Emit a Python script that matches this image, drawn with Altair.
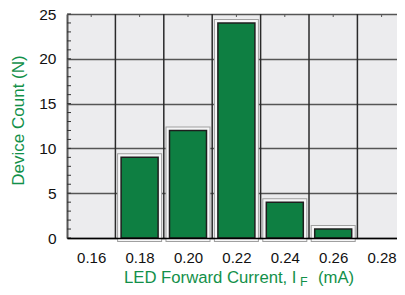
import altair as alt
import pandas as pd

# ---- data ----
currents = [0.16, 0.18, 0.20, 0.22, 0.24, 0.26, 0.28]
counts = [0, 9, 12, 24, 4, 1, 0]
grid_x = [0.17, 0.19, 0.21, 0.23, 0.25, 0.27]
y_ticks = [0, 5, 10, 15, 20, 25]
minor_y = list(range(0, 26))
x_title_main = "LED Forward Current, I"
x_title_sub = "F"
x_title_unit = "(mA)"
y_title = "Device Count (N)"

GREEN = "#0e7f42"
TITLE_GREEN = "#129049"
FONT = "Liberation Sans"
W, H = 330, 224

x_scale = alt.Scale(domain=[0.15, 0.28636], nice=False, zero=False, padding=0)
y_scale = alt.Scale(domain=[0, 25], nice=False, padding=0)

X_AXIS = alt.Axis(
    values=currents,
    format=".2f",
    title=None,
    grid=False,
    ticks=False,
    domainColor="#000000",
    domainWidth=1.5,
    labelPadding=12,
    labelFont=FONT,
    labelFontSize=15,
    labelColor="#111111",
    zindex=1,
)
Y_AXIS = alt.Axis(
    values=y_ticks,
    grid=True,
    gridColor="#555555",
    gridWidth=1.5,
    ticks=False,
    domainColor="#555555",
    domainWidth=2,
    labelPadding=11,
    labelFont=FONT,
    labelFontSize=15.5,
    labelColor="#111111",
    title=y_title,
    titleColor=TITLE_GREEN,
    titleFont=FONT,
    titleFontSize=17,
    titleFontWeight="normal",
    titleAngle=270,
    titleX=-49,
    titleY=106,
    titleAlign="center",
    titleBaseline="middle",
)

bars_df = pd.DataFrame({"current": currents, "count": counts})
bars_df = bars_df[bars_df["count"] > 0]
grid_df = pd.DataFrame({"current": grid_x})
minor_df = pd.DataFrame({"count": minor_y})
top_df = pd.DataFrame({"current": currents})

# vertical grid lines (between categories)
vgrid = alt.Chart(grid_df).mark_rule(color="#2a2a2a", strokeWidth=1.5).encode(
    x=alt.X("current:Q", scale=x_scale, axis=X_AXIS)
)

# minor ticks on the left, pointing into the plot
minor = alt.Chart(minor_df).mark_rule(color="#333333", strokeWidth=1).encode(
    y=alt.Y("count:Q", scale=y_scale, axis=Y_AXIS),
    x=alt.value(0),
    x2=alt.value(4),
)

# small ticks along the top edge
topticks = alt.Chart(top_df).mark_rule(color="#555555", strokeWidth=1).encode(
    x=alt.X("current:Q", scale=x_scale, axis=X_AXIS),
    y=alt.value(0),
    y2=alt.value(3),
)


def bar_layer(stroke, sw):
    return alt.Chart(bars_df).mark_bar(size=37, fill=GREEN, stroke=stroke, strokeWidth=sw).encode(
        x=alt.X("current:Q", scale=x_scale, axis=X_AXIS),
        y=alt.Y("count:Q", scale=y_scale, axis=Y_AXIS),
    )


halo_outer = bar_layer("#a0a0a0", 8)
halo_inner = bar_layer("#f6f6f7", 6)
bars = bar_layer("#1e1e1e", 1.5)

t_main = alt.Chart(pd.DataFrame({"t": [x_title_main]})).mark_text(
    align="left", baseline="alphabetic", font=FONT, fontSize=16.7, color=TITLE_GREEN
).encode(text="t:N", x=alt.value(57), y=alt.value(269))
t_sub = alt.Chart(pd.DataFrame({"t": [x_title_sub]})).mark_text(
    align="left", baseline="alphabetic", font=FONT, fontSize=12.5, color=TITLE_GREEN
).encode(text="t:N", x=alt.value(233), y=alt.value(272))
t_unit = alt.Chart(pd.DataFrame({"t": [x_title_unit]})).mark_text(
    align="left", baseline="alphabetic", font=FONT, fontSize=16.7, color=TITLE_GREEN
).encode(text="t:N", x=alt.value(251), y=alt.value(269))

chart = alt.layer(
    vgrid, minor, topticks, halo_outer, halo_inner, bars, t_main, t_sub, t_unit
).properties(
    width=W,
    height=H,
    autosize=alt.AutoSizeParams(type="none"),
    padding={"left": 59, "top": 6, "right": 0, "bottom": 49},
    background="white",
).configure_view(
    stroke=None, fill="#ececee"
)

chart.save("out.html", embed_options={"renderer": "svg", "actions": False})
